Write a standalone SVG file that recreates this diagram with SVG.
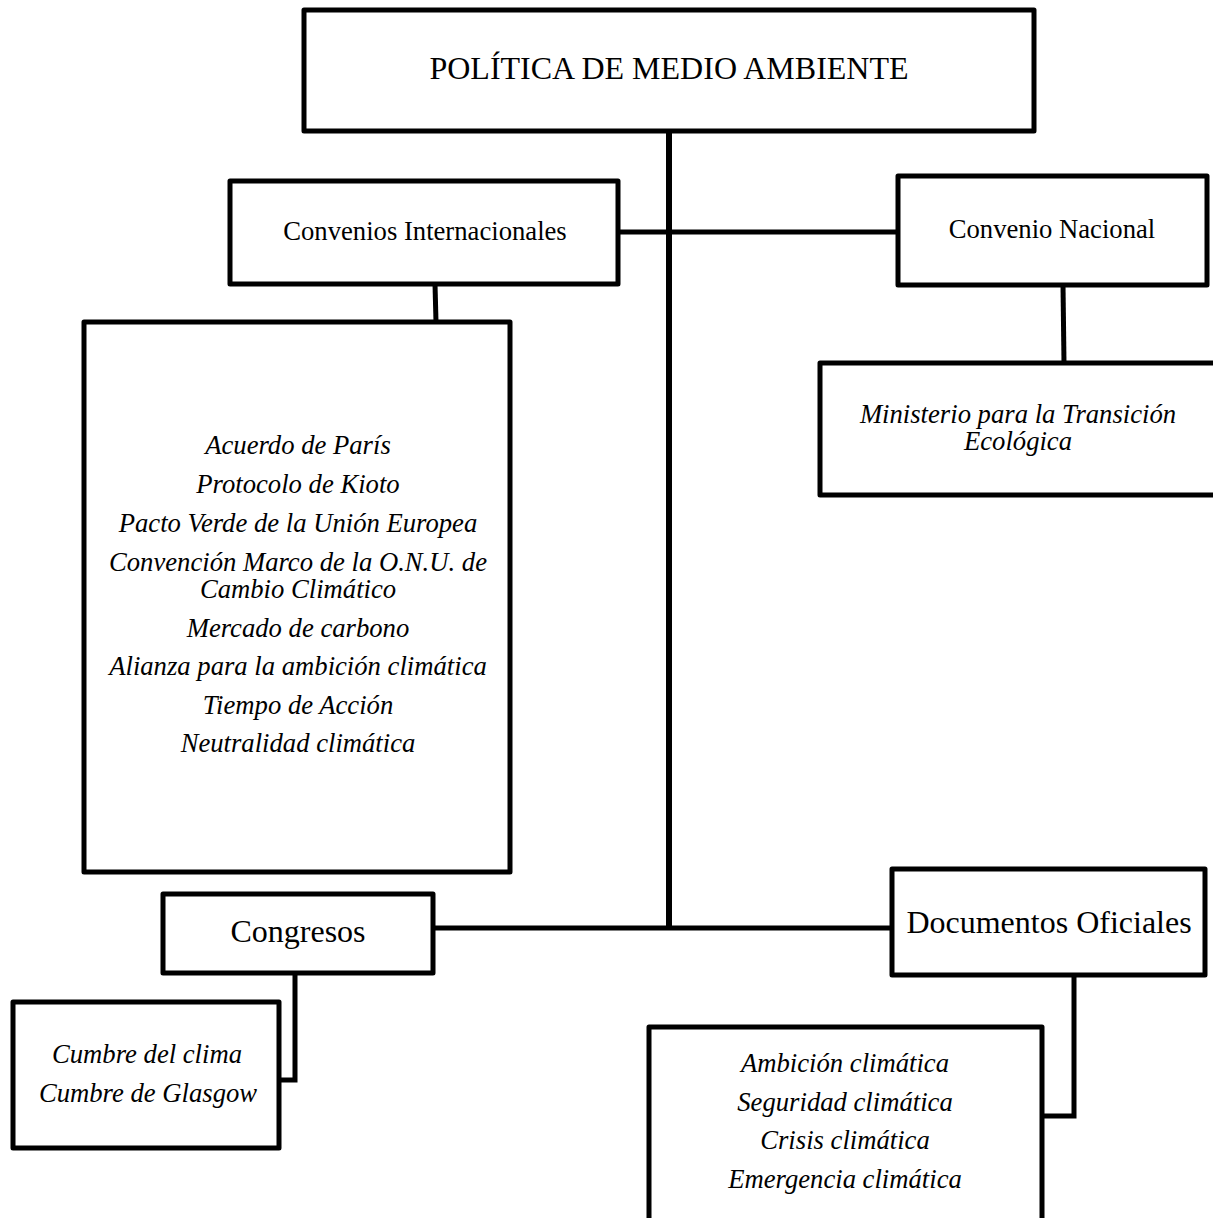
<svg xmlns="http://www.w3.org/2000/svg" width="1213" height="1218" viewBox="0 0 1213 1218">
  <style>
    .box { fill: #ffffff; stroke: #000000; stroke-width: 5; stroke-linejoin: round; }
    .link { fill: none; stroke: #000000; stroke-width: 5; stroke-linejoin: miter; }
    .trunk { fill: none; stroke: #000000; stroke-width: 6; }
    text { font-family: "Liberation Serif", "Times New Roman", serif; fill: #000000; text-anchor: middle; }
    .big { font-size: 32px; }
    .mid { font-size: 26.67px; }
    .it { font-size: 26.67px; font-style: italic; }
  </style>

  <rect width="1213" height="1218" fill="#ffffff"/>

  <!-- connectors -->
  <g id="connectors">
    <line class="trunk" x1="669" y1="130" x2="669" y2="928"/>
    <line class="link" x1="618" y1="232" x2="898" y2="232"/>
    <line class="link" x1="435" y1="284" x2="436" y2="322"/>
    <line class="link" x1="1063" y1="285" x2="1064" y2="363"/>
    <line class="link" x1="433" y1="928" x2="892" y2="928"/>
    <polyline class="link" points="295,973 295,1080 279,1080"/>
    <polyline class="link" points="1074,975 1074,1116 1042,1116"/>
  </g>

  <!-- root -->
  <g id="politica">
    <rect class="box" x="304" y="10" width="730" height="121"/>
    <text class="big" x="669" y="79">POLÍTICA DE MEDIO AMBIENTE</text>
  </g>

  <g id="convenios-internacionales">
    <rect class="box" x="230" y="181" width="388" height="103"/>
    <text class="mid" x="425" y="240">Convenios Internacionales</text>
  </g>

  <g id="convenio-nacional">
    <rect class="box" x="898" y="176" width="309" height="109"/>
    <text class="mid" x="1052" y="238">Convenio Nacional</text>
  </g>

  <g id="lista-internacional">
    <rect class="box" x="84" y="322" width="426" height="550"/>
    <text class="it" x="298" y="454">Acuerdo de París</text>
    <text class="it" x="298" y="493">Protocolo de Kioto</text>
    <text class="it" x="298" y="532">Pacto Verde de la Unión Europea</text>
    <text class="it" x="298" y="571">Convención Marco de la O.N.U. de</text>
    <text class="it" x="298" y="598">Cambio Climático</text>
    <text class="it" x="298" y="637">Mercado de carbono</text>
    <text class="it" x="298" y="675">Alianza para la ambición climática</text>
    <text class="it" x="298" y="714">Tiempo de Acción</text>
    <text class="it" x="298" y="752">Neutralidad climática</text>
  </g>

  <g id="ministerio">
    <rect class="box" x="820" y="363" width="410" height="132"/>
    <text class="it" x="1018" y="423">Ministerio para la Transición</text>
    <text class="it" x="1018" y="450">Ecológica</text>
  </g>

  <g id="congresos">
    <rect class="box" x="163" y="894" width="270" height="79"/>
    <text class="big" x="298" y="942">Congresos</text>
  </g>

  <g id="cumbres">
    <rect class="box" x="13" y="1002" width="266" height="146"/>
    <text class="it" x="147" y="1063">Cumbre del clima</text>
    <text class="it" x="148" y="1102">Cumbre de Glasgow</text>
  </g>

  <g id="documentos-oficiales">
    <rect class="box" x="892" y="869" width="313" height="106"/>
    <text class="big" x="1049" y="933">Documentos Oficiales</text>
  </g>

  <g id="lista-documentos">
    <rect class="box" x="649" y="1027" width="393" height="210"/>
    <text class="it" x="845" y="1072">Ambición climática</text>
    <text class="it" x="845" y="1111">Seguridad climática</text>
    <text class="it" x="845" y="1149">Crisis climática</text>
    <text class="it" x="845" y="1188">Emergencia climática</text>
  </g>
</svg>
